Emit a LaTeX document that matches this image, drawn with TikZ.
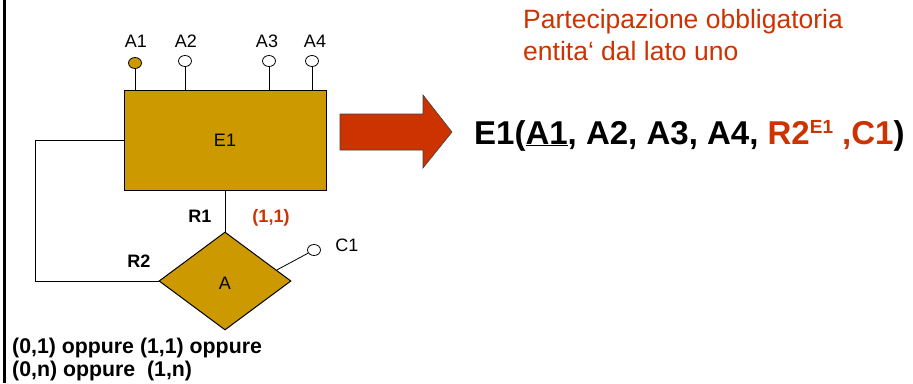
\documentclass[tikz,border=0pt]{standalone}
\usepackage{fontspec}
\setmainfont{Liberation Sans}
\usepackage{xcolor}
\usetikzlibrary{positioning,shapes.geometric,calc}

\definecolor{gold}{HTML}{CC9900}
\definecolor{brick}{HTML}{CC3300}
\newcommand{\lblfont}{\fontsize{18}{20}\selectfont}
\newcommand{\cardfont}{\bfseries\fontsize{18}{20}\selectfont}

\begin{document}
\begin{tikzpicture}[x=1pt,y=-1pt,
    entity/.style={draw, fill=gold, line width=1pt, minimum width=202pt, minimum height=100pt, inner sep=0pt, font=\lblfont},
    relship/.style={draw, diamond, fill=gold, line width=1pt, minimum width=132pt, minimum height=98pt, inner sep=0pt, font=\lblfont},
    attr/.style={draw, ellipse, fill=white, line width=0.8pt, minimum width=13pt, minimum height=11pt, inner sep=0pt},
    link/.style={line width=0.8pt},
    lbl/.style={font=\lblfont, inner sep=0pt, anchor=base},
    card/.style={font=\cardfont, inner sep=0pt, anchor=base}]
    \useasboundingbox (0,0) rectangle (913,383);

    % Border
    \draw[line width=2.3pt] (4.5,0) -- (4.5,383);

    % Entity and relationship
    \node[entity] (e1) at (225,140) {E1};
    \node[relship] (a) at (225,281) {};
    \node[lbl] (alab) at (225,289) {A};

    % Attributes
    \foreach \n/\x/\y/\lx/\col in {a1/135/63/136/gold, a2/185/61/186/white,
                                   a3/269/61/267/white, a4/312/61/315/white} {
        \node[attr, fill=\col] (\n) at (\x,\y) {};
        \node[lbl] (\n lab) at (\lx,47) {\MakeUppercase{\n}};
        \draw[link] (\n) -- (\n |- e1.north);
    }
    \node[attr] (c1) at (314,250) {};
    \node[lbl] (c1lab) at (347,251) {C1};
    \draw[link] (a.12) -- (c1);

    % Links
    \coordinate (bend) at (35,140);
    \draw[link] (e1.south) -- (a.north);
    \draw[link] (e1.west) -- (bend) |- (a.west);

    % Labels
    \node[card] (r1) at (200,222) {R1};
    \node[card, text=brick] (r1card) at (271,222) {(1,1)};
    \node[card] (r2) at (139,267) {R2};
    \node[font=\bfseries\fontsize{21.3}{23.5}\selectfont, inner sep=0pt, anchor=base west, align=left] (cards) at (12,376.5)
        {(0,1) oppure (1,1) oppure\\(0,n) oppure~~(1,n)};

    % Translation
    \filldraw[fill=brick, draw=black!75, line width=0.6pt]
        (340,114) -- (423,114) -- (423,95) -- (452,132) -- (423,168) -- (423,150) -- (340,150) -- cycle;
    \node[font=\fontsize{26.5}{32}\selectfont, text=brick, inner sep=0pt, anchor=base west, align=left] (note) at (523,60)
        {Partecipazione obbligatoria\\entita\char"0060{} dal lato uno};
    \node[font=\bfseries\fontsize{33}{36}\selectfont, inner sep=0pt, anchor=base west] (rel) at (474,144)
        {E1(\underline{A1}, A2, A3, A4, \textcolor{brick}{R2\raisebox{11pt}{\fontsize{19}{20}\selectfont E1} ,C1})};
\end{tikzpicture}
\end{document}
